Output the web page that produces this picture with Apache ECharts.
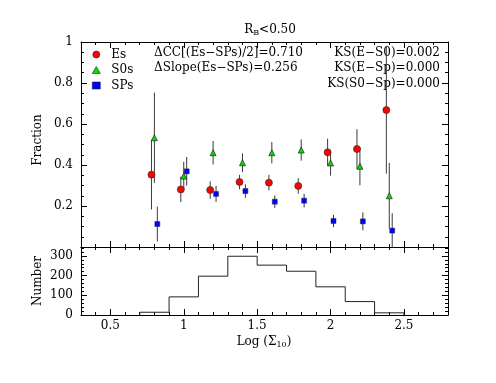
<!DOCTYPE html>
<html><head><meta charset="utf-8">
<script src="https://cdn.jsdelivr.net/npm/echarts@6/dist/echarts.min.js"></script>
<style>html,body{margin:0;padding:0;background:#fff}#c{width:496px;height:383px}</style>
</head><body><div id="c"></div>
<script>
const binCenters = [0.8, 1.0, 1.2, 1.4, 1.6, 1.8, 2.0, 2.2, 2.4];
const esFrac = [0.353, 0.281, 0.278, 0.317, 0.314, 0.298, 0.462, 0.478, 0.668];
const esErr  = [0.170, 0.062, 0.043, 0.035, 0.038, 0.038, 0.066, 0.097, 0.310];
const s0Frac = [0.533, 0.346, 0.460, 0.411, 0.460, 0.473, 0.410, 0.394, 0.250];
const s0Err  = [0.220, 0.070, 0.057, 0.046, 0.052, 0.052, 0.062, 0.093, 0.160];
const spFrac = [0.112, 0.369, 0.259, 0.273, 0.221, 0.226, 0.127, 0.125, 0.080];
const spErr  = [0.085, 0.070, 0.039, 0.033, 0.030, 0.033, 0.030, 0.044, 0.085];
const histEdges  = [0.7, 0.9, 1.1, 1.3, 1.5, 1.7, 1.9, 2.1, 2.3, 2.5];
const histCounts = [14, 92, 197, 298, 253, 222, 143, 68, 11];
const xMajorTicks = [0.5, 1, 1.5, 2, 2.5];
const fracTicks = [0.2, 0.4, 0.6, 0.8, 1];
const numTicks = [0, 100, 200, 300];
const annotLeft = ['ΔCC[(Es−SPs)/2]=0.710', 'ΔSlope(Es−SPs)=0.256'];
const annotRight = ['KS(E−S0)=0.002', 'KS(E−Sp)=0.000', 'KS(S0−Sp)=0.000'];

const FONT = 'DejaVu Serif';
const offsets = {Es: -0.02, S0s: 0, SPs: 0.02};

function xAxes(grid, pos, labels) {
  const base = {type: 'value', gridIndex: grid, position: pos, min: 0.3, max: 2.8,
    splitLine: {show: false}};
  return [
    Object.assign({}, base, {interval: 0.1,
      axisLine: {show: true, onZero: false, lineStyle: {color: '#000', width: 1}},
      axisTick: {show: true, inside: true, length: 3, lineStyle: {color: '#000'}},
      axisLabel: {show: false}}),
    Object.assign({}, base, {interval: 0.1,
      axisLine: {show: false, onZero: false},
      axisTick: {show: true, inside: true, length: 6, customValues: xMajorTicks, lineStyle: {color: '#000'}},
      axisLabel: labels ? {show: true, customValues: xMajorTicks, fontFamily: FONT, fontSize: 12, color: '#000', margin: 5,
        formatter: v => String(Math.round(v * 10) / 10)} : {show: false}})
  ];
}
function yAxis(grid, pos, min, max, interval, minorSplit, labels, fmt) {
  return {type: 'value', gridIndex: grid, position: pos, min: min, max: max, interval: interval,
    splitLine: {show: false},
    axisLine: {show: true, onZero: false, lineStyle: {color: '#000', width: 1}},
    axisTick: {show: true, inside: true, length: 6, lineStyle: {color: '#000'}},
    minorTick: {show: true, splitNumber: minorSplit, length: 3, lineStyle: {color: '#000'}},
    axisLabel: labels ? {show: true, fontFamily: FONT, fontSize: 12, color: '#000', margin: 8, formatter: fmt} : {show: false}};
}

const xAxisList = [].concat(
  xAxes(0, 'bottom', false), xAxes(0, 'top', false),
  xAxes(1, 'bottom', true), xAxes(1, 'top', false));
const yAxisList = [
  yAxis(0, 'left', 0, 1, 0.2, 4, true, v => fracTicks.some(t => Math.abs(t - v) < 1e-6) ? String(Math.round(v * 10) / 10) : ''),
  yAxis(0, 'right', 0, 1, 0.2, 4, false),
  yAxis(1, 'left', 0, 345, 100, 5, true, v => numTicks.indexOf(v) >= 0 ? String(v) : ''),
  yAxis(1, 'right', 0, 345, 100, 5, false)
];

function pts(vals, off) { return binCenters.map((c, i) => [c + off, vals[i]]); }
function errs(vals, err, off) { return binCenters.map((c, i) => [c + off, vals[i] - err[i], vals[i] + err[i]]); }

const errSeries = (name, vals, err) => ({
  type: 'custom', name: name + '_err', xAxisIndex: 0, yAxisIndex: 0, clip: true, z: 2,
  data: errs(vals, err, offsets[name]),
  renderItem: (params, api) => {
    const a = api.coord([api.value(0), api.value(1)]);
    const b = api.coord([api.value(0), api.value(2)]);
    return {type: 'line', shape: {x1: a[0], y1: a[1], x2: b[0], y2: b[1]},
      style: {stroke: '#3a3a3a', lineWidth: 1}};
  }
});

const histLine = [];
histCounts.forEach((c, i) => {
  if (i === 0) histLine.push([histEdges[0], 0]);
  histLine.push([histEdges[i], c]);
  histLine.push([histEdges[i + 1], c]);
});
histLine.push([histEdges[histEdges.length - 1], 0]);

const chart = echarts.init(document.getElementById('c'));
chart.setOption({
  animation: false,
  backgroundColor: '#fff',
  grid: [
    {left: 81, top: 42, width: 367, height: 205},
    {left: 81, top: 247, width: 367, height: 68}
  ],
  xAxis: xAxisList,
  yAxis: yAxisList,
  legend: {
    left: 87, top: 43.5, orient: 'vertical', itemWidth: 8, itemHeight: 7, itemGap: 3.5,
    data: ['Es', 'S0s', 'SPs'],
    textStyle: {fontFamily: FONT, fontSize: 12, color: '#000', padding: [0, 0, 0, 6]},
    itemStyle: {borderColor: '#222', borderWidth: 0.6}
  },
  series: [
    errSeries('Es', esFrac, esErr),
    errSeries('S0s', s0Frac, s0Err),
    errSeries('SPs', spFrac, spErr),
    {type: 'scatter', name: 'Es', xAxisIndex: 0, yAxisIndex: 0, z: 5, symbol: 'circle', symbolSize: 7,
      itemStyle: {color: '#ff0000', borderColor: '#333', borderWidth: 0.7, opacity: 1},
      data: pts(esFrac, offsets.Es)},
    {type: 'scatter', name: 'S0s', xAxisIndex: 0, yAxisIndex: 0, z: 5, symbol: 'triangle', symbolSize: 6,
      itemStyle: {color: '#00e000', borderColor: '#222', borderWidth: 0.7, opacity: 1},
      data: pts(s0Frac, offsets.S0s)},
    {type: 'scatter', name: 'SPs', xAxisIndex: 0, yAxisIndex: 0, z: 5, symbol: 'rect', symbolSize: 5,
      itemStyle: {color: '#0000ff', borderColor: '#333', borderWidth: 0.5, opacity: 1},
      data: pts(spFrac, offsets.SPs)},
    {type: 'line', name: 'hist', xAxisIndex: 4, yAxisIndex: 2, showSymbol: false, symbol: 'none',
      lineStyle: {color: '#222', width: 1}, data: histLine, z: 3}
  ],
  graphic: [
    {type: 'text', x: 270, y: 30, style: {text: '{r|R}{s|B}{r|<0.50}', align: 'center', verticalAlign: 'middle',
      rich: {r: {fontFamily: FONT, fontSize: 12, fill: '#000'}, s: {fontFamily: FONT, fontSize: 8, fill: '#000', padding: [6, 0, 0, 0]}}}},
    {type: 'text', x: 154, y: 53, style: {text: annotLeft[0], fontFamily: FONT, fontSize: 12, fill: '#000', verticalAlign: 'middle'}},
    {type: 'text', x: 154, y: 68, style: {text: annotLeft[1], fontFamily: FONT, fontSize: 12, fill: '#000', verticalAlign: 'middle'}},
    {type: 'text', x: 440, y: 53, style: {text: annotRight[0], fontFamily: FONT, fontSize: 12, fill: '#000', align: 'right', verticalAlign: 'middle'}},
    {type: 'text', x: 440, y: 68, style: {text: annotRight[1], fontFamily: FONT, fontSize: 12, fill: '#000', align: 'right', verticalAlign: 'middle'}},
    {type: 'text', x: 440, y: 83.5, style: {text: annotRight[2], fontFamily: FONT, fontSize: 12, fill: '#000', align: 'right', verticalAlign: 'middle'}},
    {type: 'text', x: 38, y: 140, rotation: Math.PI / 2, style: {text: 'Fraction', fontFamily: FONT, fontSize: 12, fill: '#000', align: 'center', verticalAlign: 'middle'}},
    {type: 'text', x: 38, y: 281, rotation: Math.PI / 2, style: {text: 'Number', fontFamily: FONT, fontSize: 12, fill: '#000', align: 'center', verticalAlign: 'middle'}},
    {type: 'text', x: 264, y: 342, style: {text: '{r|Log (Σ}{s|10}{r|)}', align: 'center', verticalAlign: 'middle',
      rich: {r: {fontFamily: FONT, fontSize: 12, fill: '#000'}, s: {fontFamily: FONT, fontSize: 8, fill: '#000', padding: [6, 0, 0, 0]}}}}
  ]
});
</script></body></html>
